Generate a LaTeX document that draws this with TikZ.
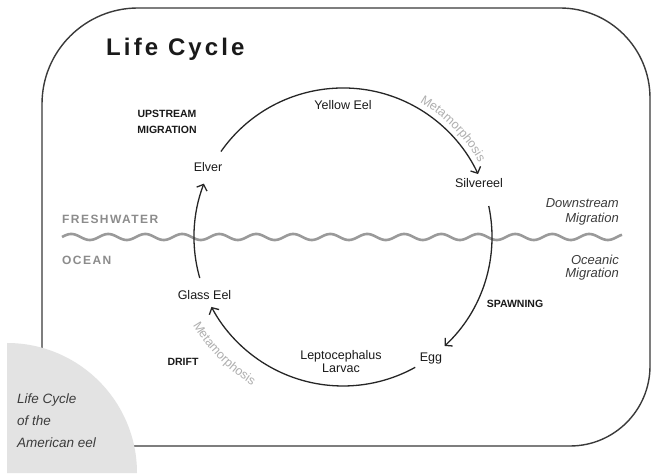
\documentclass[tikz,border=0pt]{standalone}
\usepackage{fontspec}
\setmainfont{Liberation Sans}
\newfontfamily\spacedfont[LetterSpace=12]{Liberation Sans}
\newfontfamily\titlefont[LetterSpace=13]{Liberation Sans}
\usetikzlibrary{arrows.meta,decorations.text}
\definecolor{framecol}{HTML}{3A3A3A}
\definecolor{wavecol}{HTML}{9A9A9A}
\definecolor{watertext}{HTML}{8C8C8C}
\definecolor{metacol}{HTML}{AFAFAF}
\definecolor{diskcol}{HTML}{E3E3E3}
\definecolor{inkcol}{HTML}{1A1A1A}
\definecolor{sidecol}{HTML}{3C3C3C}
\begin{document}
\begin{tikzpicture}[x=1pt,y=1pt,
  frameline/.style={draw=framecol, line width=1.4pt},
  wave/.style={draw=wavecol, line width=2.6pt},
  lbl/.style={inner sep=0pt, anchor=base, text=inkcol, font=\fontsize{12.5}{14}\selectfont},
  capslbl/.style={inner sep=0pt, anchor=base, text=inkcol, font=\bfseries\fontsize{10.5}{12}\selectfont},
  waterlbl/.style={inner sep=0pt, anchor=base west, text=watertext, font=\spacedfont\bfseries\fontsize{12}{14}\selectfont},
  sidelbl/.style={inner sep=0pt, anchor=base east, text=sidecol, font=\itshape\fontsize{13}{15}\selectfont},
  cornerlbl/.style={inner sep=0pt, anchor=base west, text=sidecol, font=\itshape\fontsize{13.5}{15}\selectfont},
  cyc/.style={draw=black!85, line width=1.3pt, -{Straight Barb[length=5pt,width=11pt]}},
  metatext/.style={decorate, decoration={text along path, text align=center, text color=metacol,
     text={|\fontsize{12.5}{14}\selectfont|Metamorphosis}}}
]
\useasboundingbox (0,0) rectangle (652,473);
\fill[white] (0,0) rectangle (652,473);

% frame
\draw[frameline] (42,100) -- (42,369) arc[start angle=180,end angle=90,radius=96]
  -- (560,465) arc[start angle=90,end angle=0,radius=90]
  -- (650,107) arc[start angle=0,end angle=-90,radius=80] -- (110,27);

% grey quarter disk
\fill[diskcol] (7,0) -- (7,130) arc[start angle=90,end angle=0,radius=130] -- cycle;

% title
\node[inner sep=0pt, anchor=base west, text=inkcol, font=\titlefont\bfseries\fontsize{24}{28}\selectfont] (title) at (106,417) {Life Cycle};

% water line
\draw[wave] plot[domain=62:622, samples=400, smooth] (\x, {236+3*sin((\x-62)/37*360)});
\node[waterlbl] (fresh) at (62,249) {FRESHWATER};
\node[waterlbl] (ocean) at (62,208) {OCEAN};

% cycle
\coordinate (C) at (343,236);
\path (C) ++(145:149) coordinate (a1);
\path (C) ++(12:149) coordinate (a2);
\path (C) ++(-61:149) coordinate (a3);
\path (C) ++(196:149) coordinate (a4);
\draw[cyc] (a1) arc[start angle=145, end angle=25, radius=149];
\draw[cyc] (a2) arc[start angle=12, end angle=-47, radius=149];
\draw[cyc] (a3) arc[start angle=-61, end angle=-152, radius=149];
\draw[cyc] (a4) arc[start angle=196, end angle=159, radius=149];

\path[metatext] (C) ++(63:155) arc[start angle=63, end angle=26, radius=155];
\path[metatext] (C) ++(206:174) arc[start angle=206, end angle=243, radius=174];

% stage labels
\node[lbl] (yellow) at (343,363) {Yellow Eel};
\node[lbl] (elver) at (208,301) {Elver};
\node[lbl] (silver) at (479,285) {Silvereel};
\node[lbl] (glass) at (204.5,173) {Glass Eel};
\node[lbl] (egg) at (431,111.5) {Egg};
\node[lbl] (lepto) at (341,113) {Leptocephalus};
\node[lbl] (larvac) at (341,100) {Larvac};

% process labels
\node[capslbl] (up1) at (167,355) {UPSTREAM};
\node[capslbl] (up2) at (167,339) {MIGRATION};
\node[capslbl] (spawn) at (515,165.5) {SPAWNING};
\node[capslbl] (drift) at (183,107.5) {DRIFT};

% side labels
\node[sidelbl] (down1) at (619,265) {Downstream};
\node[sidelbl] (down2) at (619,250) {Migration};
\node[sidelbl] (oce1) at (619,208) {Oceanic};
\node[sidelbl] (oce2) at (619,195) {Migration};

% corner caption
\node[cornerlbl] (cap1) at (17,69) {Life Cycle};
\node[cornerlbl] (cap2) at (17,47) {of the};
\node[cornerlbl] (cap3) at (17,25) {American eel};
\end{tikzpicture}
\end{document}
